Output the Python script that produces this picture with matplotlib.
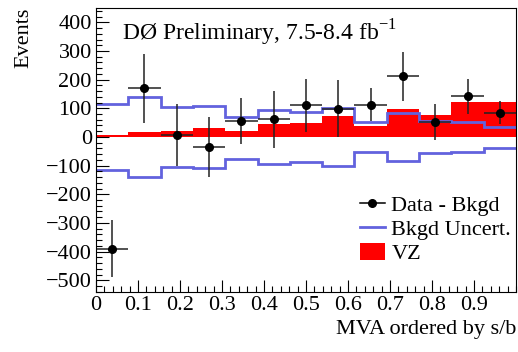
import matplotlib.pyplot as plt
import numpy as np
from matplotlib.ticker import MultipleLocator
from matplotlib.lines import Line2D
from matplotlib.patches import Patch

plt.rcParams['font.family'] = ['Liberation Serif', 'DejaVu Serif']
plt.rcParams['mathtext.fontset'] = 'custom'
plt.rcParams['mathtext.rm'] = 'Liberation Serif'

# 13 bins of the MVA output, ordered by s/b
bin_edges = np.linspace(0, 1, 14)
data_minus_bkgd = [-390, 170, 7, -34, 56, 61, 110, 99, 113, 211, 51, 142, 84]
data_err = [100, 120, 107, 105, 80, 100, 93, 99, 59, 86, 63, 61, 40]
vz_signal = [7, 18, 22, 31, 22, 45, 49, 72, 37, 97, 75, 121, 123]
bkgd_uncert_up = [115, 138, 105, 109, 71, 95, 86, 101, 51, 82, 55, 52, 36]
bkgd_uncert_down = [-114, -140, -106, -109, -76, -94, -89, -101, -52, -83, -57, -54, -37]

centers = 0.5 * (bin_edges[:-1] + bin_edges[1:])
half_w = 0.5 * np.diff(bin_edges)

fig = plt.figure(figsize=(5.18, 3.52), dpi=100)
ax = fig.add_axes([96 / 518, 1 - 291.7 / 352, 420 / 518, 283.7 / 352])

blue = '#6262de'

# VZ signal histogram (filled)
ax.stairs(vz_signal, bin_edges, baseline=0, fill=True, color='#ff0000', lw=0)
# background uncertainty band edges
ax.stairs(bkgd_uncert_up, bin_edges, baseline=None, color=blue, lw=2)
ax.stairs(bkgd_uncert_down, bin_edges, baseline=None, color=blue, lw=2)
# data minus background
ax.errorbar(centers, data_minus_bkgd, yerr=data_err, xerr=half_w, fmt='o',
            color='black', ms=5.5, elinewidth=1.1, capsize=0, ecolor='#222222')

ax.set_xlim(0, 1)
ax.set_ylim(-540, 450)
ax.xaxis.set_major_locator(MultipleLocator(0.1))
ax.xaxis.set_minor_locator(MultipleLocator(0.02))
ax.yaxis.set_major_locator(MultipleLocator(100))
ax.yaxis.set_minor_locator(MultipleLocator(20))
ax.tick_params(which='both', direction='in', top=False, right=False, labelsize=16, pad=3)
ax.tick_params(which='major', length=9, width=0.8)
ax.tick_params(which='minor', length=4.5, width=0.8)
ax.set_xticks(np.arange(0, 1.0, 0.1))
ax.set_xticklabels(['0', '0.1', '0.2', '0.3', '0.4', '0.5', '0.6', '0.7', '0.8', '0.9'])
for s in ax.spines.values():
    s.set_linewidth(0.8)

ax.set_xlabel('MVA ordered by s/b', fontsize=16, loc='right', labelpad=4)
ax.set_ylabel('Events', fontsize=16, loc='top', labelpad=9)

ax.text(0.063, 0.965, r'DØ Preliminary, 7.5-8.4 fb$^{\mathregular{-1}}$', transform=ax.transAxes,
        fontsize=17, va='top', ha='left')

handles = [
    Line2D([0], [0], color='black', marker='o', ms=5.5, lw=1.1),
    Line2D([0], [0], color=blue, lw=2),
    Patch(facecolor='#ff0000', edgecolor='none'),
]
ax.legend(handles, ['Data - Bkgd', 'Bkgd Uncert.', 'VZ'], loc='upper left',
          bbox_to_anchor=(0.629, 0.34), frameon=False, fontsize=16,
          handlelength=1.1, handleheight=0.8, handletextpad=0.3, labelspacing=0.12,
          borderaxespad=0, borderpad=0)

fig.savefig('out.png', dpi=100)
